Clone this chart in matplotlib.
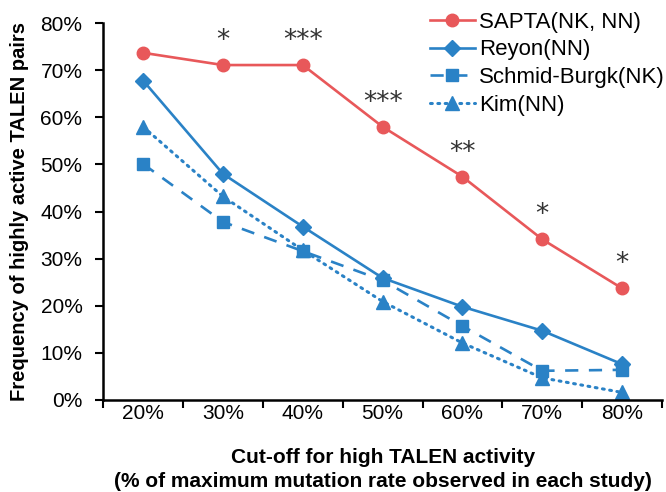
import matplotlib
matplotlib.use('Agg')
import matplotlib.pyplot as plt
from matplotlib.ticker import FuncFormatter

plt.rcParams['font.family'] = ['Liberation Sans', 'DejaVu Sans']

cutoffs = ['20%', '30%', '40%', '50%', '60%', '70%', '80%']
sapta = [73.7, 71.1, 71.1, 58.0, 47.4, 34.1, 23.7]
reyon = [67.8, 48.0, 36.8, 25.9, 19.8, 14.7, 7.6]
schmid = [50.1, 37.8, 31.6, 25.4, 15.7, 6.2, 6.4]
kim = [58.0, 43.2, 31.8, 20.9, 12.1, 4.7, 1.6]
stars = ['', '*', '***', '***', '**', '*', '*']

red = '#E8585A'
blue = '#2A82C6'


def pct(x, pos):
    return f'{x:.0f}%'


def main():
    fig = plt.figure(figsize=(6.66, 4.92), dpi=100)
    ax = fig.add_axes([0.155, 0.187, 0.839, 0.766])
    xs = list(range(len(cutoffs)))

    ax.plot(xs, sapta, color=red, lw=1.9, marker='o', ms=9,
            label='SAPTA(NK, NN)')
    ax.plot(xs, reyon, color=blue, lw=1.9, marker='D', ms=8,
            label='Reyon(NN)')
    ax.plot(xs, schmid, color=blue, lw=1.9, ls=(0, (5, 4)), marker='s',
            ms=8, label='Schmid-Burgk(NK)')
    ax.plot(xs, kim, color=blue, lw=2.2, ls=(0, (0.6, 1.8)),
            dash_capstyle='round', marker='^', ms=10, label='Kim(NN)')

    for x, y, s in zip(xs, sapta, stars):
        if s:
            ax.annotate(s, (x, y), xytext=(0, 8), textcoords='offset points',
                        ha='center', va='bottom', fontsize=19,
                        color='#333333', family='DejaVu Sans')

    ax.set_xlim(-0.5, 6.5)
    ax.set_ylim(0, 80)
    ax.set_xticks([i - 0.5 for i in range(len(cutoffs) + 1)])
    ax.set_xticklabels([])
    ax.set_xticks(xs, minor=True)
    ax.set_xticklabels(cutoffs, minor=True)
    ax.tick_params(axis='x', which='major', length=6, width=1.5,
                   direction='out')
    ax.tick_params(axis='x', which='minor', length=0, pad=3, labelsize=15)
    ax.set_yticks(range(0, 81, 10))
    ax.yaxis.set_major_formatter(FuncFormatter(pct))
    ax.tick_params(axis='y', length=6, width=1.5, labelsize=15, pad=9)

    for side in ['top', 'right']:
        ax.spines[side].set_visible(False)
    for side in ['left', 'bottom']:
        ax.spines[side].set_linewidth(1.8)

    ax.set_ylabel('Frequency of highly active TALEN pairs', fontsize=14.5,
                  fontweight='bold', labelpad=8)
    xl = ax.set_xlabel('Cut-off for high TALEN activity\n'
                       '(% of maximum mutation rate observed in each study)',
                       fontsize=15, fontweight='bold', labelpad=18)
    xl.set_linespacing(1.35)

    ax.legend(loc='upper right', bbox_to_anchor=(1.025, 1.06), frameon=False,
              fontsize=16, handlelength=2.0, handletextpad=0.2,
              labelspacing=0.3, borderaxespad=0.1)

    fig.savefig('out.png', dpi=100)


if __name__ == "__main__":
    main()
